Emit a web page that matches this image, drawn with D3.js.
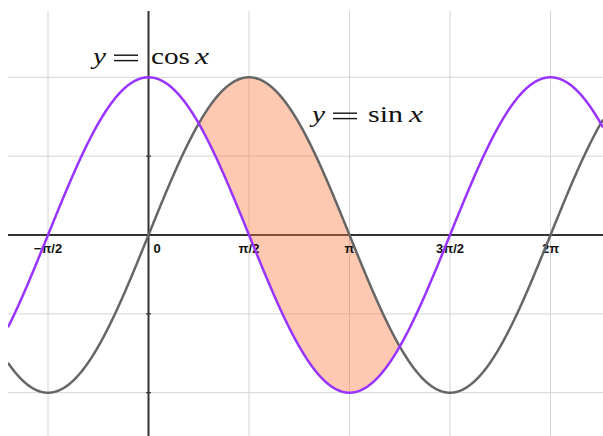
<!DOCTYPE html>
<html>
<head>
<meta charset="utf-8">
<script src="https://cdn.jsdelivr.net/npm/d3@7"></script>
<style>
  html, body { margin: 0; padding: 0; background: #fff; }
  svg { display: block; }
</style>
</head>
<body>
<svg id="chart" width="603" height="436"></svg>
<script>
// Axis ticks along x, in multiples of pi
const xTickValues = [-Math.PI / 2, 0, Math.PI / 2, Math.PI, 3 * Math.PI / 2, 2 * Math.PI];
const xTickLabels = ["\u2212\u03c0/2", "0", "\u03c0/2", "\u03c0", "3\u03c0/2", "2\u03c0"];
// Horizontal grid lines
const yGridValues = [-1, -0.5, 0, 0.5, 1];

// The two curves and the region where sin x lies above cos x
const curveNames = ["sin", "cos"];
const curveColors = { sin: "#666666", cos: "#9933ff" };
const curveFns = { sin: Math.sin, cos: Math.cos };
const shadeRange = [Math.PI / 4, 5 * Math.PI / 4];

const width = 603, height = 436;
const plot = { left: 8, right: 603, top: 11, bottom: 436 };

const x = d3.scaleLinear().domain([0, 2 * Math.PI]).range([148.5, 550.5]);
const y = d3.scaleLinear().domain([0, 1]).range([235, 77.3]);

const xMin = x.invert(plot.left), xMax = x.invert(plot.right);

const svg = d3.select("#chart");

svg.append("defs").append("clipPath").attr("id", "plotClip")
  .append("rect")
  .attr("x", plot.left).attr("y", plot.top)
  .attr("width", plot.right - plot.left).attr("height", plot.bottom - plot.top);

const g = svg.append("g").attr("clip-path", "url(#plotClip)");

// Grid
g.append("g").selectAll("line").data(xTickValues).join("line")
  .attr("x1", d => x(d)).attr("x2", d => x(d))
  .attr("y1", plot.top).attr("y2", plot.bottom)
  .attr("stroke", "#d4d4d4").attr("stroke-width", 1);
g.append("g").selectAll("line").data(yGridValues).join("line")
  .attr("x1", plot.left).attr("x2", plot.right)
  .attr("y1", d => y(d)).attr("y2", d => y(d))
  .attr("stroke", "#d4d4d4").attr("stroke-width", 1);

// Curve labels in math style, set piece by piece; they sit under the axes
const mathFont = "'Liberation Serif', 'DejaVu Serif', serif";
function mathLabel(px, py, fn) {
  const lab = g.append("g").attr("transform", `translate(${px},${py})`)
    .attr("font-family", mathFont).attr("font-size", 24).attr("fill", "#111");
  const piece = (dx, len, txt, italic) => lab.append("text")
    .attr("x", dx).attr("textLength", len).attr("lengthAdjust", "spacingAndGlyphs")
    .attr("font-style", italic ? "italic" : "normal").text(txt);
  piece(0, 13, "y", true);
  // equals sign drawn as two thin bars, as in typeset math
  lab.append("rect").attr("x", 21).attr("y", -9).attr("width", 24).attr("height", 1.4);
  lab.append("rect").attr("x", 21).attr("y", -3.6).attr("width", 24).attr("height", 1.4);
  piece(fn === "cos" ? 58 : 56, fn === "cos" ? 39 : 35, fn, false);
  piece(fn === "cos" ? 102 : 97, 14, "x", true);
}
mathLabel(93, 63.5, "cos");
mathLabel(312, 121.5, "sin");

// Axes
g.append("line")
  .attr("x1", plot.left).attr("x2", plot.right)
  .attr("y1", y(0)).attr("y2", y(0))
  .attr("stroke", "#333").attr("stroke-width", 2);
g.append("line")
  .attr("x1", x(0)).attr("x2", x(0))
  .attr("y1", plot.top).attr("y2", plot.bottom)
  .attr("stroke", "#333").attr("stroke-width", 2);

// Small tick marks on the y axis
g.append("g").selectAll("line").data(yGridValues.filter(v => v !== 0)).join("line")
  .attr("x1", x(0) - 2.5).attr("x2", x(0) + 2.5)
  .attr("y1", d => y(d)).attr("y2", d => y(d))
  .attr("stroke", "#333").attr("stroke-width", 1.2);

// Shaded area between the curves
const step = 0.01;
const shadeXs = d3.range(shadeRange[0], shadeRange[1] + step / 2, step);
shadeXs[shadeXs.length - 1] = shadeRange[1];
const area = d3.area()
  .x(d => x(d))
  .y0(d => y(curveFns.cos(d)))
  .y1(d => y(curveFns.sin(d)));
g.append("path").datum(shadeXs)
  .attr("d", area)
  .attr("fill", "rgb(255,120,60)").attr("fill-opacity", 0.4);

// Tick labels
g.append("g").selectAll("text").data(xTickValues).join("text")
  .attr("x", d => d === 0 ? x(d) + 5 : x(d))
  .attr("y", 253)
  .attr("text-anchor", d => d === 0 ? "start" : "middle")
  .attr("font-family", "'Liberation Sans', Arial, sans-serif")
  .attr("font-weight", "bold").attr("font-size", 13)
  .attr("fill", "#111")
  .text((d, i) => xTickLabels[i]);

// Curves
const xs = d3.range(xMin, xMax + 0.01, 0.01);
const line = d3.line().x(d => x(d[0])).y(d => y(d[1]));
curveNames.forEach(name => {
  g.append("path")
    .datum(xs.map(v => [v, curveFns[name](v)]))
    .attr("d", line)
    .attr("fill", "none")
    .attr("stroke", curveColors[name])
    .attr("stroke-width", 2.5)
    .attr("stroke-linejoin", "round");
});
</script>
</body>
</html>
